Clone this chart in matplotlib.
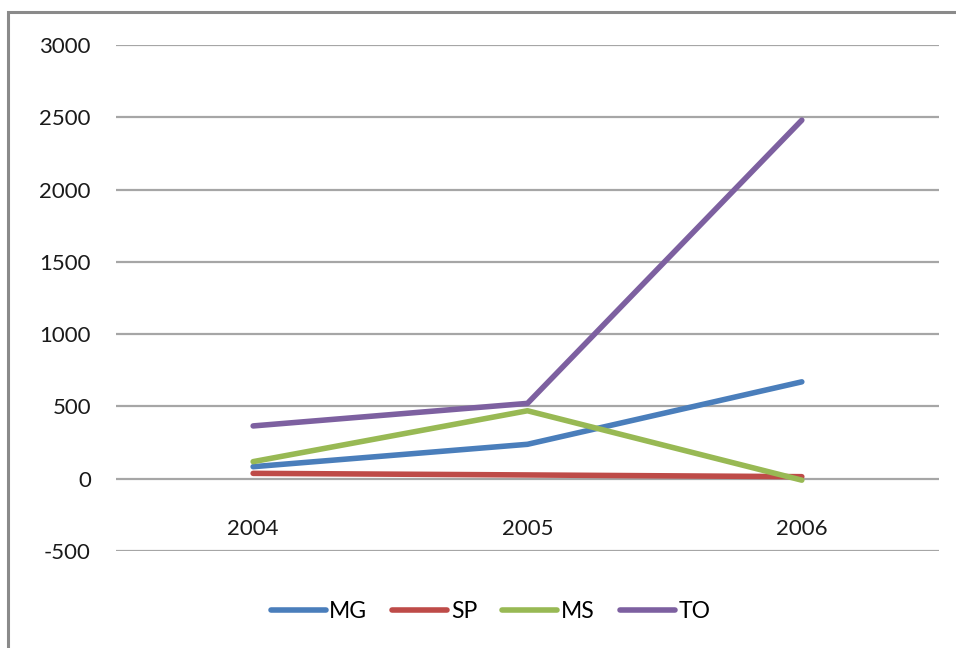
import matplotlib.pyplot as plt
from matplotlib.patches import Rectangle

years = ['2004', '2005', '2006']
mg = [83, 238, 670]
sp = [37, 26, 14]
ms = [118, 470, -10]
to = [365, 521, 2480]

series = [('MG', mg, '#4A7EBB'),
          ('SP', sp, '#BE4B48'),
          ('MS', ms, '#98B954'),
          ('TO', to, '#7D60A0')]

plt.rcParams['font.family'] = ['Lato', 'DejaVu Sans']
plt.rcParams['axes.unicode_minus'] = False

fig = plt.figure(figsize=(9.56, 6.48), dpi=100)
ax = fig.add_axes([0.1213, 0.1497, 0.8609, 0.7809])

# chart frame (only top and left edges show)
fig.patches.append(Rectangle((8 / 956, -0.1), 2.0, 1 - 12 / 648 + 0.1,
                             transform=fig.transFigure, fill=False,
                             edgecolor='#8a8a8a', linewidth=2.2))

x = range(len(years))
for name, vals, col in series:
    ax.plot(x, vals, color=col, linewidth=4.0, solid_capstyle='round',
            label=name, zorder=3)

ax.set_xlim(-0.5, 2.5)
ax.set_ylim(-500, 3000)
ax.set_yticks(range(-500, 3001, 500))
ax.yaxis.grid(True, color='#a6a6a6', linewidth=1.6)
ax.set_axisbelow(True)
ax.set_xticks(list(x))
ax.set_xticklabels(years)

for s in ['top', 'right', 'left']:
    ax.spines[s].set_visible(False)
ax.spines['bottom'].set_position(('data', 0))
ax.spines['bottom'].set_visible(False)
ax.tick_params(axis='both', length=0, labelsize=16, colors='#1a1a1a')
ax.tick_params(axis='y', pad=18)
ax.tick_params(axis='x', pad=29)

fig.legend(loc='center', bbox_to_anchor=(0.513, 0.057), ncol=4, frameon=False,
           fontsize=16.5, handlelength=2.4, handletextpad=0.15,
           columnspacing=1.1)

plt.savefig('out.png', dpi=100)
